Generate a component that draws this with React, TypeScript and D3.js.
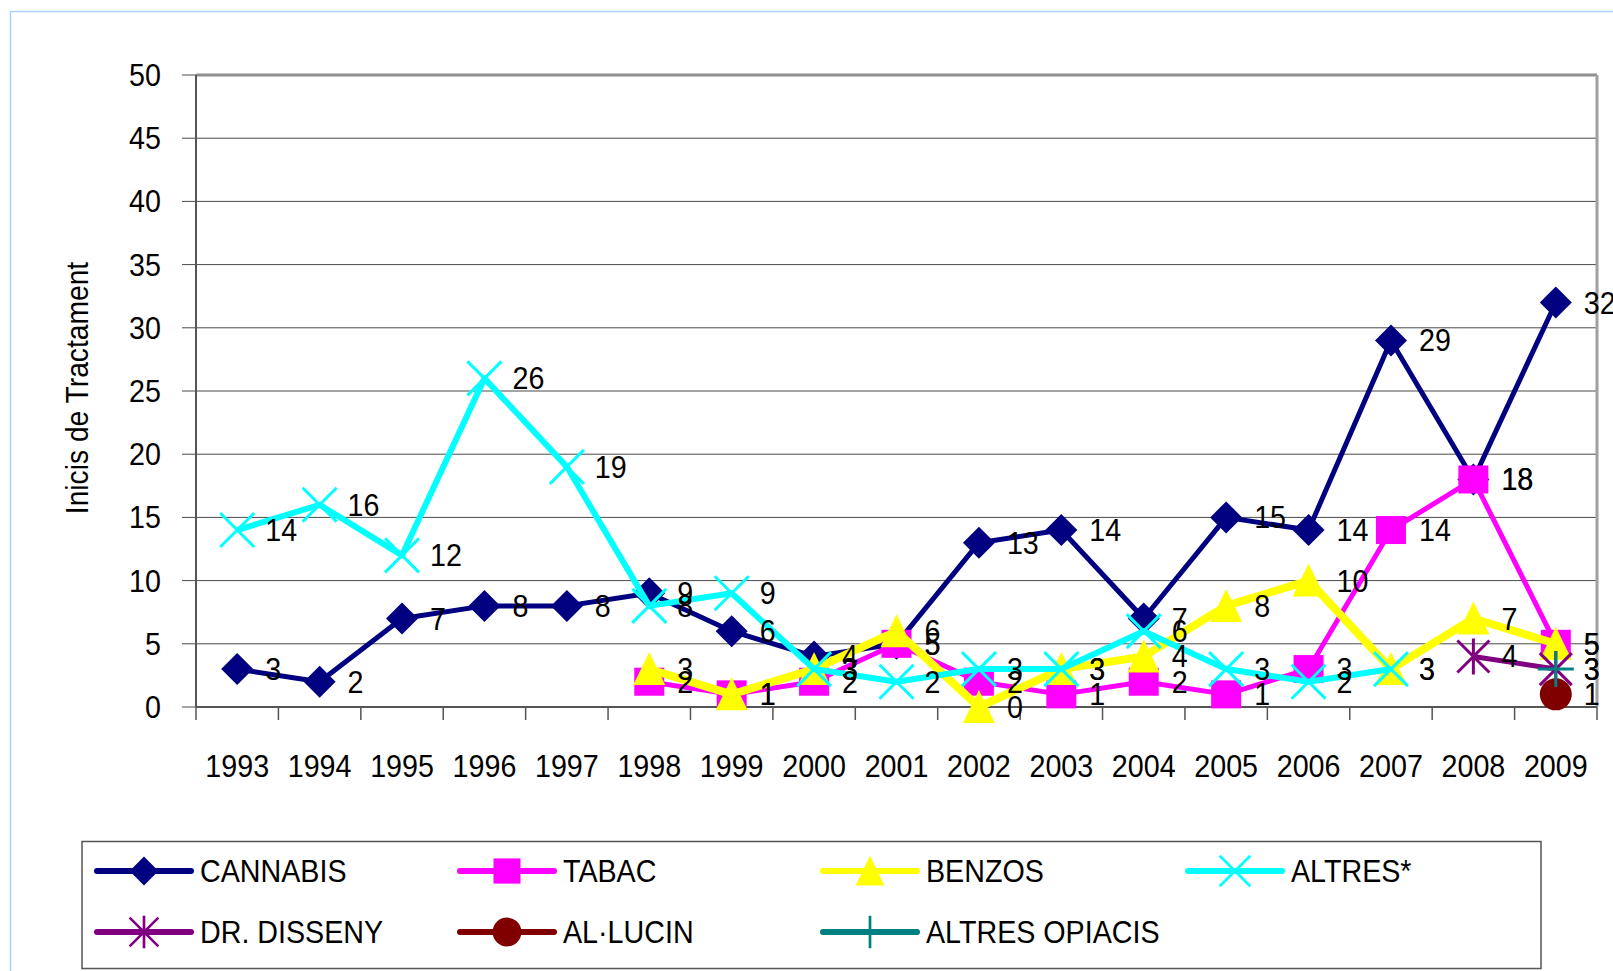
import * as d3 from "d3";

const years = ["1993", "1994", "1995", "1996", "1997", "1998", "1999", "2000", "2001", "2002", "2003", "2004", "2005", "2006", "2007", "2008", "2009"];
const yTicks = [0, 5, 10, 15, 20, 25, 30, 35, 40, 45, 50];

const cannabis = [3, 2, 7, 8, 8, 9, 6, 4, 5, 13, 14, 7, 15, 14, 29, 18, 32];
const tabac = [null, null, null, null, null, 2, 1, 2, 5, 2, 1, 2, 1, 3, 14, 18, 5];
const benzos = [null, null, null, null, null, 3, 1, 3, 6, 0, 3, 4, 8, 10, 3, 7, 5];
const altres = [14, 16, 12, 26, 19, 8, 9, 3, 2, 3, 3, 6, 3, 2, 3, null, null];
const drDisseny = [null, null, null, null, null, null, null, null, null, null, null, null, null, null, null, 4, 3];
const allucin = [null, null, null, null, null, null, null, null, null, null, null, null, null, null, null, null, 1];
const altresOpiacis = [null, null, null, null, null, null, null, null, null, null, null, null, null, null, null, null, 3];

type Marker = "diamond" | "square" | "triangle" | "x" | "star" | "circle" | "plus";

const series: { name: string; values: (number | null)[]; color: string; width: number; marker: Marker }[] = [
  { name: "CANNABIS", values: cannabis, color: "#000080", width: 5, marker: "diamond" },
  { name: "TABAC", values: tabac, color: "#ff00ff", width: 5, marker: "square" },
  { name: "BENZOS", values: benzos, color: "#ffff00", width: 8, marker: "triangle" },
  { name: "ALTRES*", values: altres, color: "#00ffff", width: 6, marker: "x" },
  { name: "DR. DISSENY", values: drDisseny, color: "#800080", width: 5, marker: "star" },
  { name: "AL·LUCIN", values: allucin, color: "#800000", width: 5, marker: "circle" },
  { name: "ALTRES OPIACIS", values: altresOpiacis, color: "#008080", width: 5, marker: "plus" },
];

const FONT = "'Liberation Sans', Arial, sans-serif";

// condensed-looking text, like the narrow font of the original
function T({ x, y, anchor = "start", size = 31.5, rotate = 0, children }: { x: number; y: number; anchor?: string; size?: number; rotate?: number; children: any }) {
  return (
    <text
      transform={`translate(${x},${y}) rotate(${rotate}) scale(0.91,1)`}
      textAnchor={anchor}
      dominantBaseline="central"
      fontSize={size}
      fill="#000"
    >
      {children}
    </text>
  );
}

function MarkerShape({ kind, color, cx, cy, s = 1 }: { kind: Marker; color: string; cx: number; cy: number; s?: number }) {
  const t = `translate(${cx},${cy}) scale(${s})`;
  switch (kind) {
    case "diamond":
      return <path transform={t} d="M0,-16L16,0L0,16L-16,0Z" fill={color} />;
    case "square":
      return <rect transform={t} x={-15} y={-14} width={30} height={28} fill={color} />;
    case "triangle":
      return <path transform={t} d="M0,-17L16,16L-16,16Z" fill={color} />;
    case "circle":
      return <circle transform={t} r={16} fill={color} />;
    case "x":
      return <path transform={t} d="M-17,-17L17,17M17,-17L-17,17" stroke={color} strokeWidth={3} fill="none" />;
    case "star":
      return <path transform={t} d="M-16,-16L16,16M16,-16L-16,16M0,-18L0,18" stroke={color} strokeWidth={3} fill="none" />;
    case "plus":
      return <path transform={t} d="M-18,0L18,0M0,-18L0,18" stroke={color} strokeWidth={3} fill="none" />;
  }
}

export default function App() {
  const left = 196;
  const right = 1597;
  const top = 75;
  const bottom = 707;

  const x = d3.scaleBand<string>().domain(years).range([left, right]);
  const cx = (yr: string) => (x(yr) as number) + x.bandwidth() / 2;
  const y = d3.scaleLinear().domain([0, 50]).range([bottom, top]);

  const line = d3
    .line<{ yr: string; v: number | null }>()
    .defined((d) => d.v !== null)
    .x((d) => cx(d.yr))
    .y((d) => y(d.v as number));

  const legendCols = [97, 460, 823, 1188];
  const legendRows = [871, 932];

  return (
    <div style={{ position: "fixed", left: 0, top: 0 }}>
      <svg width={1613} height={971} style={{ display: "block", background: "#fff" }} fontFamily={FONT}>
        <rect x={10.5} y={11.5} width={1640} height={1000} fill="none" stroke="#a9d1f7" strokeWidth={1.5} />

        {/* gridlines */}
        {yTicks.map((t) => (
          <g key={t}>
            <line x1={left} x2={right} y1={y(t)} y2={y(t)} stroke="#4a4a4a" strokeWidth={1} />
            <line x1={left - 14} x2={left} y1={y(t)} y2={y(t)} stroke="#4a4a4a" strokeWidth={1} />
            <T x={161} y={y(t)} anchor="end">
              {t}
            </T>
          </g>
        ))}
        <line x1={left} x2={right} y1={top} y2={top} stroke="#909090" strokeWidth={3} />
        <line x1={right} x2={right} y1={top} y2={bottom} stroke="#a0a0a0" strokeWidth={3} />
        <line x1={left} x2={left} y1={top} y2={bottom} stroke="#555" strokeWidth={2} />
        <line x1={left} x2={right} y1={bottom} y2={bottom} stroke="#555" strokeWidth={2} />

        {/* x ticks */}
        {years.map((yr) => (
          <line key={"t" + yr} x1={x(yr) as number} x2={x(yr) as number} y1={bottom} y2={bottom + 13} stroke="#555" strokeWidth={1.5} />
        ))}
        <line x1={right} x2={right} y1={bottom} y2={bottom + 13} stroke="#555" strokeWidth={1.5} />
        {years.map((yr) => (
          <T key={"l" + yr} x={cx(yr)} y={766} anchor="middle">
            {yr}
          </T>
        ))}

        <T x={77} y={388} anchor="middle" size={31} rotate={-90}>
          Inicis de Tractament
        </T>

        {/* series */}
        {series.map((s) => {
          const pts = years.map((yr, i) => ({ yr, v: s.values[i] }));
          return (
            <g key={s.name}>
              <path d={line(pts) ?? ""} fill="none" stroke={s.color} strokeWidth={s.width} strokeLinejoin="round" />
              {pts
                .filter((p) => p.v !== null)
                .map((p) => (
                  <MarkerShape key={p.yr} kind={s.marker} color={s.color} cx={cx(p.yr)} cy={y(p.v as number)} />
                ))}
            </g>
          );
        })}

        {/* data labels */}
        {series.map((s) =>
          years.map((yr, i) =>
            s.values[i] === null ? null : (
              <T key={s.name + yr} x={cx(yr) + 28} y={y(s.values[i] as number)}>
                {s.values[i]}
              </T>
            )
          )
        )}

        {/* legend */}
        <rect x={82} y={841.5} width={1459} height={127} fill="#fff" stroke="#555" strokeWidth={1.5} />
        {series.map((s, i) => {
          const lx = legendCols[i % 4];
          const ly = legendRows[Math.floor(i / 4)];
          return (
            <g key={"lg" + s.name}>
              <line x1={lx} x2={lx + 94} y1={ly} y2={ly} stroke={s.color} strokeWidth={6} strokeLinecap="round" />
              <MarkerShape kind={s.marker} color={s.color} cx={lx + 47} cy={ly} s={0.9} />
              <T x={lx + 103} y={ly}>
                {s.name}
              </T>
            </g>
          );
        })}
      </svg>
    </div>
  );
}
